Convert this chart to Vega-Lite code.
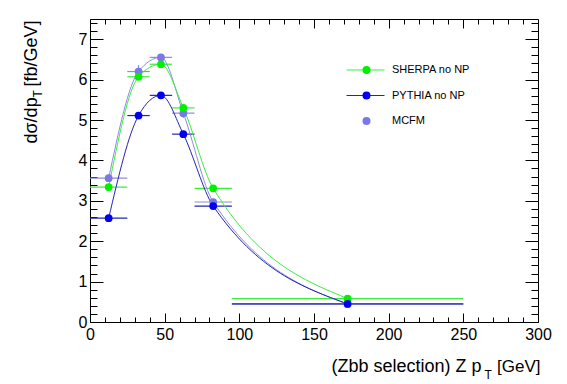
{
  "$schema": "https://vega.github.io/schema/vega-lite/v6.json",
  "width": 448,
  "height": 303,
  "autosize": {"type": "none"},
  "padding": {"left": 90, "top": 19, "right": 29, "bottom": 62},
  "background": "white",
  "config": {
    "view": {"stroke": "black", "strokeWidth": 1},
    "font": "Liberation Sans",
    "axis": {"grid": false, "domain": false, "tickColor": "black", "tickWidth": 1, "labelColor": "black", "titleColor": "black", "titleFontWeight": "normal", "titleFont": "Liberation Sans", "labelFont": "Liberation Sans"},
    "legend": {"labelFont": "Liberation Sans", "labelColor": "black"}
  },
  "data": {
    "values": [
      {"series": "MCFM", "model": "MCFM", "x": 12.5, "lo": 0, "hi": 25, "y": 3.56, "ylo": 3.5, "yhi": 3.62},
      {"series": "MCFM", "model": "MCFM", "x": 32.5, "lo": 25, "hi": 40, "y": 6.2, "ylo": 6.06, "yhi": 6.36},
      {"series": "MCFM", "model": "MCFM", "x": 47.5, "lo": 40, "hi": 55, "y": 6.55, "ylo": 6.49, "yhi": 6.62},
      {"series": "MCFM", "model": "MCFM", "x": 62.5, "lo": 55, "hi": 70, "y": 5.17, "ylo": 5.05, "yhi": 5.27},
      {"series": "MCFM", "model": "MCFM", "x": 82.5, "lo": 70, "hi": 95, "y": 2.97, "ylo": 2.91, "yhi": 3.03},
      {"series": "MCFM", "model": "MCFM", "x": 172.5, "lo": 95, "hi": 250, "y": 0.44, "ylo": 0.42, "yhi": 0.46},
      {"series": "SHERPA no NP", "model": "SHERPA no NP", "x": 12.5, "lo": 0, "hi": 25, "y": 3.34, "ylo": 3.32, "yhi": 3.36},
      {"series": "SHERPA no NP", "model": "SHERPA no NP", "x": 32.5, "lo": 25, "hi": 40, "y": 6.07, "ylo": 6.05, "yhi": 6.09},
      {"series": "SHERPA no NP", "model": "SHERPA no NP", "x": 47.5, "lo": 40, "hi": 55, "y": 6.38, "ylo": 6.36, "yhi": 6.4},
      {"series": "SHERPA no NP", "model": "SHERPA no NP", "x": 62.5, "lo": 55, "hi": 70, "y": 5.3, "ylo": 5.28, "yhi": 5.32},
      {"series": "SHERPA no NP", "model": "SHERPA no NP", "x": 82.5, "lo": 70, "hi": 95, "y": 3.31, "ylo": 3.29, "yhi": 3.33},
      {"series": "SHERPA no NP", "model": "SHERPA no NP", "x": 172.5, "lo": 95, "hi": 250, "y": 0.58, "ylo": 0.57, "yhi": 0.59},
      {"series": "PYTHIA no NP", "model": "PYTHIA no NP", "x": 12.5, "lo": 0, "hi": 25, "y": 2.57, "ylo": 2.55, "yhi": 2.59},
      {"series": "PYTHIA no NP", "model": "PYTHIA no NP", "x": 32.5, "lo": 25, "hi": 40, "y": 5.11, "ylo": 5.09, "yhi": 5.13},
      {"series": "PYTHIA no NP", "model": "PYTHIA no NP", "x": 47.5, "lo": 40, "hi": 55, "y": 5.61, "ylo": 5.59, "yhi": 5.63},
      {"series": "PYTHIA no NP", "model": "PYTHIA no NP", "x": 62.5, "lo": 55, "hi": 70, "y": 4.65, "ylo": 4.63, "yhi": 4.67},
      {"series": "PYTHIA no NP", "model": "PYTHIA no NP", "x": 82.5, "lo": 70, "hi": 95, "y": 2.87, "ylo": 2.85, "yhi": 2.89},
      {"series": "PYTHIA no NP", "model": "PYTHIA no NP", "x": 172.5, "lo": 95, "hi": 250, "y": 0.45, "ylo": 0.44, "yhi": 0.46}
    ]
  },
  "resolve": {"axis": {"x": "independent", "y": "independent"}},
  "layer": [
    {
      "mark": {"type": "rule", "strokeWidth": 1.2},
      "encoding": {
        "x": {"field": "lo", "type": "quantitative", "scale": {"domain": [0, 300], "nice": false, "zero": false},
          "axis": {"orient": "bottom", "values": [0, 50, 100, 150, 200, 250, 300], "ticks": false, "labelFontSize": 16, "labelPadding": 4, "labelFlush": false,
            "title": "(Zbb selection) Z p", "titleFontSize": 18, "titleX": 241, "titleY": 49, "titleAlign": "left", "titleBaseline": "alphabetic", "titleAnchor": null}},
        "x2": {"field": "hi"},
        "y": {"field": "y", "type": "quantitative", "scale": {"domain": [0, 7.5], "nice": false, "zero": false},
          "axis": {"orient": "left", "values": [0, 1, 2, 3, 4, 5, 6, 7], "ticks": false, "labelFontSize": 16, "labelPadding": 3, "labelFlush": false,
            "title": "[fb/GeV]", "titleFontSize": 18, "titleX": -54, "titleY": 1, "titleAngle": 270, "titleAlign": "right", "titleBaseline": "alphabetic", "titleAnchor": null}},
        "stroke": {"field": "series", "type": "nominal", "scale": {"domain": ["SHERPA no NP", "PYTHIA no NP", "MCFM"], "range": ["#3cee3c", "#2424b0", "#8c8ce0"]}}
      }
    },
    {
      "mark": {"type": "rule", "strokeWidth": 1.2},
      "encoding": {
        "x": {"field": "x", "type": "quantitative", "scale": {"domain": [0, 300], "nice": false, "zero": false},
          "axis": {"orient": "bottom", "values": [0, 50, 100, 150, 200, 250, 300], "labels": false, "tickSize": 9, "offset": -9,
            "title": "[GeV]", "titleFontSize": 17, "titleX": 450, "titleY": 58, "titleAlign": "right", "titleBaseline": "alphabetic", "titleAnchor": null}},
        "y": {"field": "ylo", "type": "quantitative", "scale": {"domain": [0, 7.5], "nice": false, "zero": false},
          "axis": {"orient": "left", "values": [0, 1, 2, 3, 4, 5, 6, 7], "labels": false, "tickSize": 13, "offset": -13,
            "title": "dσ/dp", "titleFontSize": 18, "titleX": -67, "titleY": 124, "titleAngle": 270, "titleAlign": "left", "titleBaseline": "alphabetic", "titleAnchor": null}},
        "y2": {"field": "yhi"},
        "stroke": {"field": "series", "type": "nominal", "scale": {"domain": ["SHERPA no NP", "PYTHIA no NP", "MCFM"], "range": ["#3cee3c", "#2424b0", "#8c8ce0"]}}
      }
    },
    {
      "mark": {"type": "line", "interpolate": "monotone", "strokeWidth": 1, "clip": true},
      "encoding": {
        "x": {"field": "x", "type": "quantitative", "scale": {"domain": [0, 300], "nice": false, "zero": false},
          "axis": {"orient": "bottom", "values": [10, 20, 30, 40, 60, 70, 80, 90, 110, 120, 130, 140, 160, 170, 180, 190, 210, 220, 230, 240, 260, 270, 280, 290], "labels": false, "tickSize": 5, "offset": -5,
            "title": "T", "titleFontSize": 12, "titleX": 394, "titleY": 61, "titleAlign": "left", "titleBaseline": "alphabetic", "titleAnchor": null}},
        "y": {"field": "y", "type": "quantitative", "scale": {"domain": [0, 7.5], "nice": false, "zero": false},
          "axis": {"orient": "left", "values": [0.2, 0.4, 0.6, 0.8, 1.2, 1.4, 1.6, 1.8, 2.2, 2.4, 2.6, 2.8, 3.2, 3.4, 3.6, 3.8, 4.2, 4.4, 4.6, 4.8, 5.2, 5.4, 5.6, 5.8, 6.2, 6.4, 6.6, 6.8, 7.2, 7.4], "labels": false, "tickSize": 7, "offset": -7,
            "title": "T", "titleFontSize": 12, "titleX": -56, "titleY": 78, "titleAngle": 270, "titleAlign": "left", "titleBaseline": "alphabetic", "titleAnchor": null}},
        "stroke": {"field": "series", "type": "nominal", "scale": {"domain": ["SHERPA no NP", "PYTHIA no NP", "MCFM"], "range": ["#3cee3c", "#2424b0", "#8c8ce0"]},
          "legend": {"orient": "none", "legendX": 256, "legendY": 43, "title": null, "symbolType": "stroke", "symbolSize": 1444, "symbolStrokeWidth": 1, "clipHeight": 16, "rowPadding": 9.5, "padding": 0, "labelExpr": "''", "labelFontSize": 11,
            "encode": {"symbols": {"update": {"strokeOpacity": {"signal": "datum.value === 'MCFM' ? 0 : 1"}}}}}}
      }
    },
    {
      "mark": {"type": "point", "filled": true, "size": 60, "opacity": 1, "strokeWidth": 0},
      "encoding": {
        "x": {"field": "x", "type": "quantitative", "scale": {"domain": [0, 300], "nice": false, "zero": false},
          "axis": {"orient": "top", "values": [0, 50, 100, 150, 200, 250, 300], "labels": false, "tickSize": 9, "offset": -9, "title": null}},
        "y": {"field": "y", "type": "quantitative", "scale": {"domain": [0, 7.5], "nice": false, "zero": false},
          "axis": {"orient": "right", "values": [0, 1, 2, 3, 4, 5, 6, 7], "labels": false, "tickSize": 13, "offset": -13, "title": null}},
        "fill": {"field": "model", "type": "nominal", "scale": {"domain": ["MCFM", "PYTHIA no NP", "SHERPA no NP"], "range": ["#7878e6", "#0000f0", "#00f000"]},
          "legend": {"orient": "none", "legendX": 271, "legendY": 43, "title": null, "values": ["SHERPA no NP", "PYTHIA no NP", "MCFM"], "symbolType": "circle", "symbolSize": 64, "symbolStrokeWidth": 0, "clipHeight": 16, "rowPadding": 9.5, "padding": 0, "labelOffset": 20, "labelFontSize": 11}}
      }
    },
    {
      "mark": {"type": "point", "opacity": 0},
      "encoding": {
        "x": {"field": "x", "type": "quantitative", "scale": {"domain": [0, 300], "nice": false, "zero": false},
          "axis": {"orient": "top", "values": [10, 20, 30, 40, 60, 70, 80, 90, 110, 120, 130, 140, 160, 170, 180, 190, 210, 220, 230, 240, 260, 270, 280, 290], "labels": false, "tickSize": 5, "offset": -5, "title": null}},
        "y": {"field": "y", "type": "quantitative", "scale": {"domain": [0, 7.5], "nice": false, "zero": false},
          "axis": {"orient": "right", "values": [0.2, 0.4, 0.6, 0.8, 1.2, 1.4, 1.6, 1.8, 2.2, 2.4, 2.6, 2.8, 3.2, 3.4, 3.6, 3.8, 4.2, 4.4, 4.6, 4.8, 5.2, 5.4, 5.6, 5.8, 6.2, 6.4, 6.6, 6.8, 7.2, 7.4], "labels": false, "tickSize": 7, "offset": -7, "title": null}}
      }
    }
  ]
}
